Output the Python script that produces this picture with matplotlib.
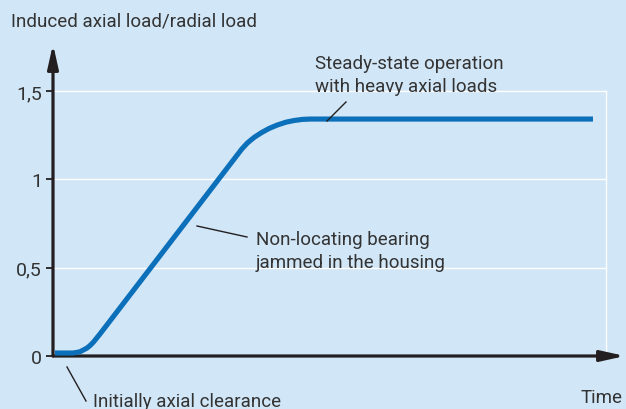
import matplotlib
matplotlib.use('Agg')
import matplotlib.pyplot as plt

# curve (time in arbitrary units, 0..100 across the axis)
time = [0.35, 3.5, 4.11, 4.72, 5.89, 6.47, 7.05, 8.22, 33.0, 34.0, 35.2, 36.5, 37.8,
        39.2, 40.7, 42.2, 43.6, 45.0, 94.4]
ratio = [0.017, 0.017, 0.020, 0.024, 0.044, 0.059, 0.078, 0.125, 1.172, 1.207, 1.239, 1.266, 1.289,
         1.308, 1.324, 1.334, 1.340, 1.342, 1.342]

yticks = [0, 0.5, 1, 1.5]
ytick_labels = ['0', '0,5', '1', '1,5']

BG = '#d1e6f6'
BLUE = '#0b6fba'
DARK = '#231f20'
TXT = '#333333'
FS = 13.5

plt.rcParams['font.family'] = ['Roboto', 'DejaVu Sans']

W, H = 626, 410
fig = plt.figure(figsize=(W / 100, H / 100), dpi=100, facecolor=BG)

def fx(px):
    return px / W

def fy(py):
    return 1 - py / H

ax = fig.add_axes([fx(53), fy(357), (625 - 53) / W, (357 - 45) / H])
ax.set_facecolor(BG)
ax.set_xlim(0, 100)
ax.set_ylim(0, 1.767)
for s in ax.spines.values():
    s.set_visible(False)

# white grid box
for v in yticks[1:]:
    ax.plot([0, 96.7], [v, v], color='white', lw=1.0, zorder=1)
ax.plot([96.7, 96.7], [0, 1.5], color='white', lw=1.0, zorder=1)

ax.set_xticks([])
ax.set_yticks(yticks)
ax.set_yticklabels(ytick_labels, fontsize=FS + 0.5, color=TXT)
ax.tick_params(axis='y', length=5, width=1.3, color=DARK, pad=3)

# axes with arrows
arrow = dict(arrowstyle='-|>,head_length=0.9,head_width=0.2', lw=2.3, color=DARK,
             mutation_scale=16, shrinkA=0, shrinkB=0)
ax.annotate('', xy=(100, 0), xytext=(0, 0), annotation_clip=False, arrowprops=arrow)
ax.annotate('', xy=(0, 1.767), xytext=(0, 0), annotation_clip=False, arrowprops=arrow)

ax.plot(time, ratio, color=BLUE, lw=3.7, solid_capstyle='butt', solid_joinstyle='round', zorder=5)

# labels
fig.text(fx(11), fy(22), 'Induced axial load/radial load', fontsize=FS, color=TXT, va='center')
fig.text(fx(623), fy(398), 'Time', fontsize=FS, color=TXT, va='center', ha='right')
fig.text(fx(315), fy(75.5), 'Steady-state operation\nwith heavy axial loads', fontsize=FS, color=TXT,
         va='center', linespacing=1.35)
fig.text(fx(256), fy(251.5), 'Non-locating bearing\njammed in the housing', fontsize=FS, color=TXT,
         va='center', linespacing=1.3)
fig.text(fx(93), fy(402), 'Initially axial clearance', fontsize=FS, color=TXT, va='center')

# leader lines
fig.add_artist(plt.Line2D([fx(327), fx(346)], [fy(122), fy(103)], color=DARK, lw=1.0))
fig.add_artist(plt.Line2D([fx(197), fx(247)], [fy(227), fy(238)], color=DARK, lw=1.0))
fig.add_artist(plt.Line2D([fx(67), fx(86)], [fy(368), fy(402)], color=DARK, lw=1.0))

fig.savefig('out.png', dpi=100, facecolor=BG)
